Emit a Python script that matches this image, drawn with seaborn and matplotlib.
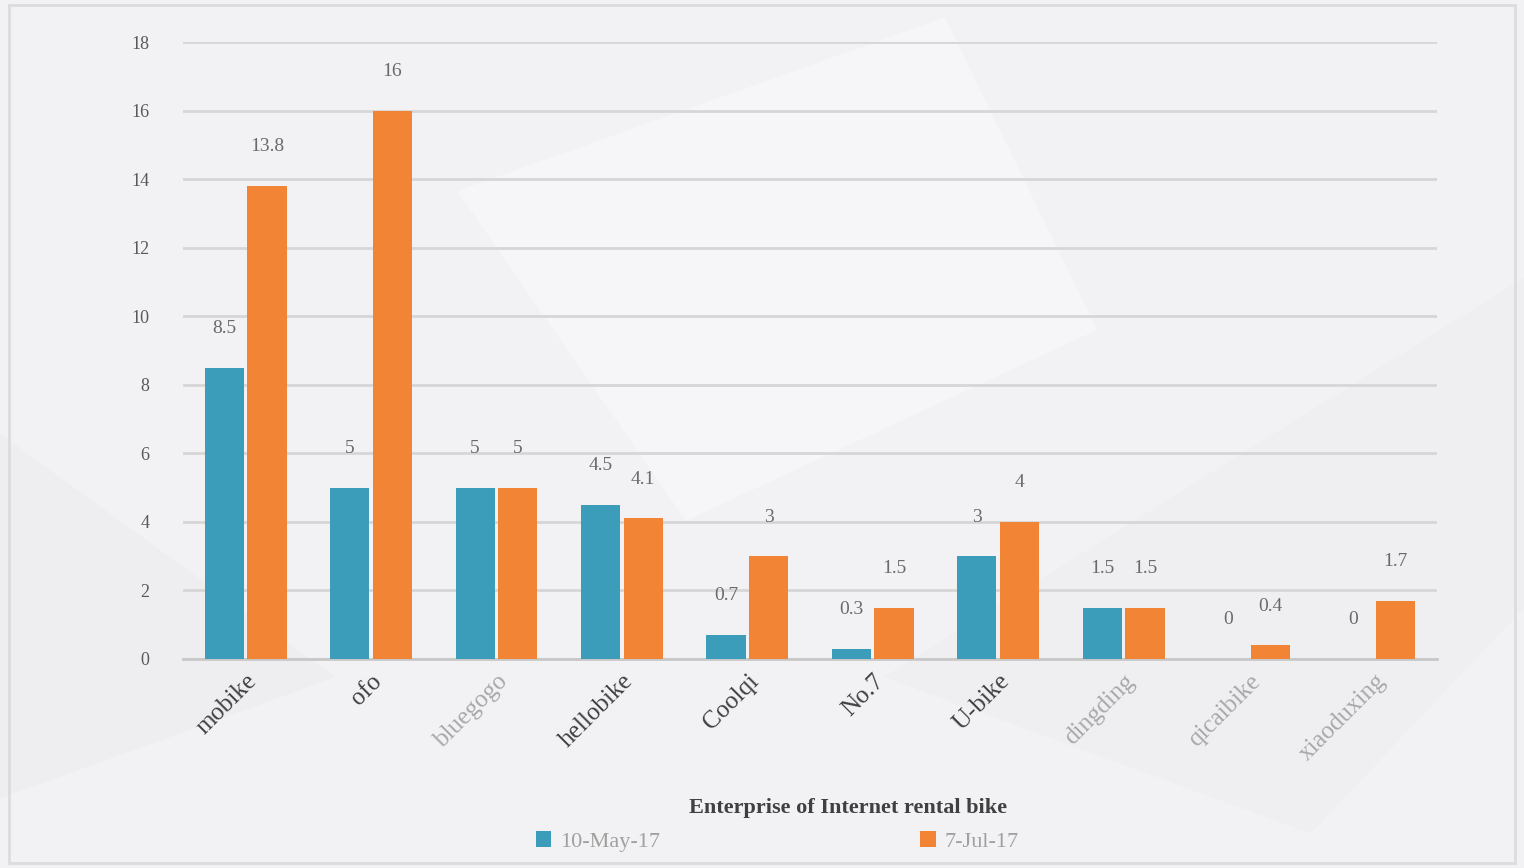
import numpy as np
import pandas as pd
import seaborn as sns
import matplotlib.pyplot as plt
from matplotlib.patches import Polygon, Rectangle

# data
companies = ["mobike", "ofo", "bluegogo", "hellobike", "Coolqi",
             "No.7", "U-bike", "dingding", "qicaibike", "xiaoduxing"]
may_vals = [8.5, 5, 5, 4.5, 0.7, 0.3, 3, 1.5, 0, 0]
jul_vals = [13.8, 16, 5, 4.1, 3, 1.5, 4, 1.5, 0.4, 1.7]
series = ["10-May-17", "7-Jul-17"]
light_labels = ["bluegogo", "dingding", "qicaibike", "xiaoduxing"]

df = pd.DataFrame({
    "company": companies * 2,
    "users": may_vals + jul_vals,
    "date": [series[0]] * len(companies) + [series[1]] * len(companies),
})

sns.set_style("white")
plt.rcParams['font.family'] = ['Liberation Serif', 'DejaVu Serif']

fig = plt.figure(figsize=(15.24, 8.68), dpi=100)
fig.patch.set_facecolor("#f2f2f4")

# faint background shapes
fig.patches.append(Polygon([[0.30, 0.78], [0.62, 0.98], [0.72, 0.62], [0.45, 0.40]],
                           closed=True, transform=fig.transFigure,
                           facecolor="#f6f6f8", edgecolor="none", zorder=-2))
fig.patches.append(Polygon([[0.0, 0.50], [0.22, 0.22], [0.0, 0.08]],
                           closed=True, transform=fig.transFigure,
                           facecolor="#eeeef1", edgecolor="none", zorder=-2))
fig.patches.append(Polygon([[0.58, 0.22], [0.86, 0.04], [1.0, 0.30], [1.0, 0.68]],
                           closed=True, transform=fig.transFigure,
                           facecolor="#efeff2", edgecolor="none", zorder=-2))
fig.patches.append(Rectangle((0.006, 0.006), 0.988, 0.988, transform=fig.transFigure,
                             facecolor="none", edgecolor="#dcdcdf", linewidth=2, zorder=-1))

ax = fig.add_axes([0.120, 0.2408, 0.823, 0.7108])
ax.set_facecolor("none")

sns.barplot(data=df, x="company", y="users", hue="date",
            palette=["#3c9dba", "#f28535"], saturation=1, width=0.68, gap=0.08,
            linewidth=0, ax=ax, legend=True, zorder=3)

ax.set_ylim(0, 18)
ax.set_yticks(np.arange(0, 19, 2))
ax.yaxis.grid(True, color="#d6d6d6", linewidth=2, zorder=0)
ax.set_axisbelow(True)
for s in ["left", "right", "top"]:
    ax.spines[s].set_visible(False)
ax.spines["bottom"].set_color("#c8c8c8")
ax.spines["bottom"].set_linewidth(2)
ax.tick_params(axis="both", length=0, labelsize=13, colors="#595959", pad=24)
ax.tick_params(axis="x", pad=8)

for lbl in ax.get_xticklabels():
    lbl.set_rotation(45)
    lbl.set_ha("right")
    lbl.set_rotation_mode("anchor")
    lbl.set_fontsize(18)
    if lbl.get_text() in light_labels:
        lbl.set_color("#a8a8a8")
    else:
        lbl.set_color("#404040")

for cont in ax.containers:
    labels = ["%g" % v for v in cont.datavalues]
    ax.bar_label(cont, labels=labels, padding=22, fontsize=14, color="#6a6a6a")

ax.set_ylabel("")
ax.set_xlabel("Enterprise of Internet rental bike", fontsize=16, fontweight="bold",
              color="#404040", labelpad=4)
ax.xaxis.set_label_coords(0.53, -0.225)

ax.legend(loc="upper center", bbox_to_anchor=(0.474, -0.247), ncol=2, frameon=False,
          fontsize=16, handlelength=0.7, handleheight=0.7, handletextpad=0.4,
          columnspacing=11.7, labelcolor="#a0a0a0", title=None)

fig.savefig("out.png", dpi=100, facecolor=fig.get_facecolor())
